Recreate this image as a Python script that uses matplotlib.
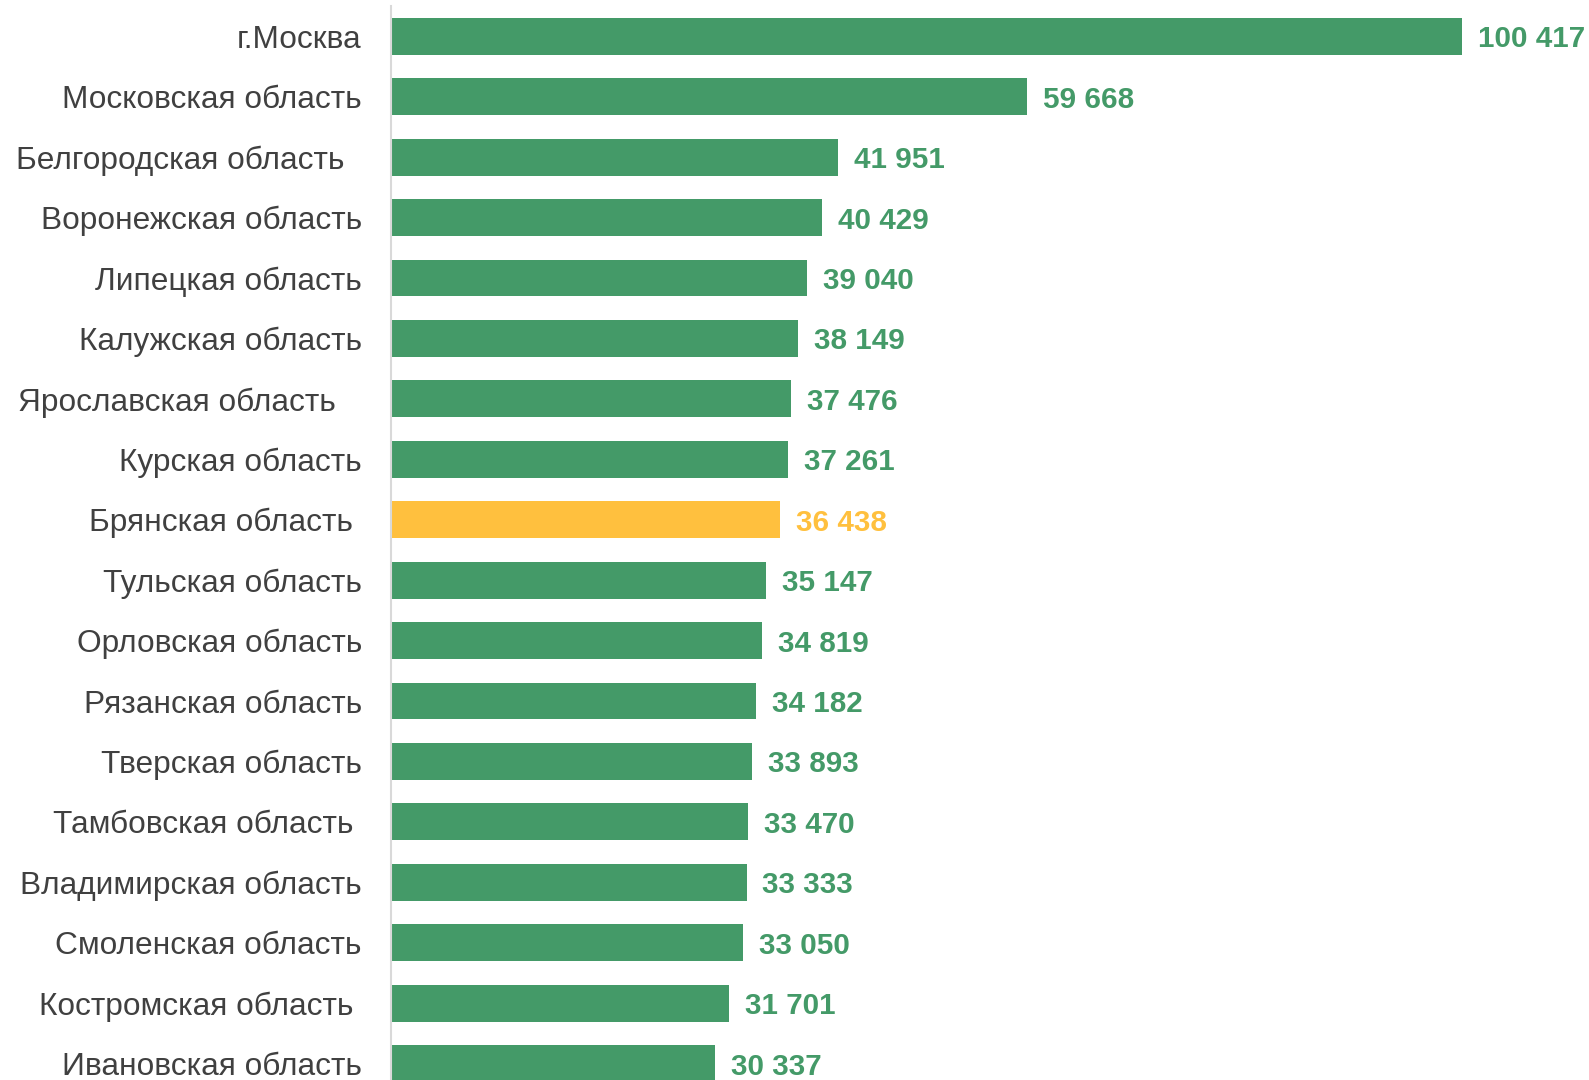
import matplotlib.pyplot as plt

plt.rcParams['font.family'] = ['Liberation Sans', 'DejaVu Sans']

# regions and values, top to bottom
regions = ['г.Москва', 'Московская область', 'Белгородская область  ', 'Воронежская область',
           'Липецкая область', 'Калужская область', 'Ярославская область   ', 'Курская область',
           'Брянская область ', 'Тульская область', 'Орловская область', 'Рязанская область',
           'Тверская область', 'Тамбовская область ', 'Владимирская область', 'Смоленская область',
           'Костромская область ', 'Ивановская область']
values = [100417, 59668, 41951, 40429, 39040, 38149, 37476, 37261, 36438,
          35147, 34819, 34182, 33893, 33470, 33333, 33050, 31701, 30337]
highlight = 'Брянская область '

green = '#449A68'
yellow = '#FFC03E'

fig = plt.figure(figsize=(15.89, 10.8), dpi=100)
ax = fig.add_axes([391/1589, 0, 1 - 391/1589, 1 - 6/1080])

colors = [yellow if r == highlight else green for r in regions]
ypos = list(range(len(regions)))
ax.barh(ypos, values, height=0.61, color=colors)

for y, v, c in zip(ypos, values, colors):
    txt = f'{v:,}'.replace(',', ' ')
    ax.annotate(txt, (v, y), xytext=(11.5, 0), textcoords='offset points',
                va='center_baseline', ha='left', fontsize=21.3, fontweight='bold', color=c,
                annotation_clip=False)

ax.set_ylim(17.27, -0.5)
ax.set_xlim(0, 112324)
ax.set_yticks(ypos)
ax.set_yticklabels(regions, fontsize=22.8, color='#404040', va='center_baseline')
ax.tick_params(axis='y', length=0, pad=21)
ax.set_xticks([])
for s in ['top', 'right', 'bottom']:
    ax.spines[s].set_visible(False)
ax.spines['left'].set_color('#D9D9D9')
ax.spines['left'].set_linewidth(1.5)

fig.savefig('out.png', dpi=100)
